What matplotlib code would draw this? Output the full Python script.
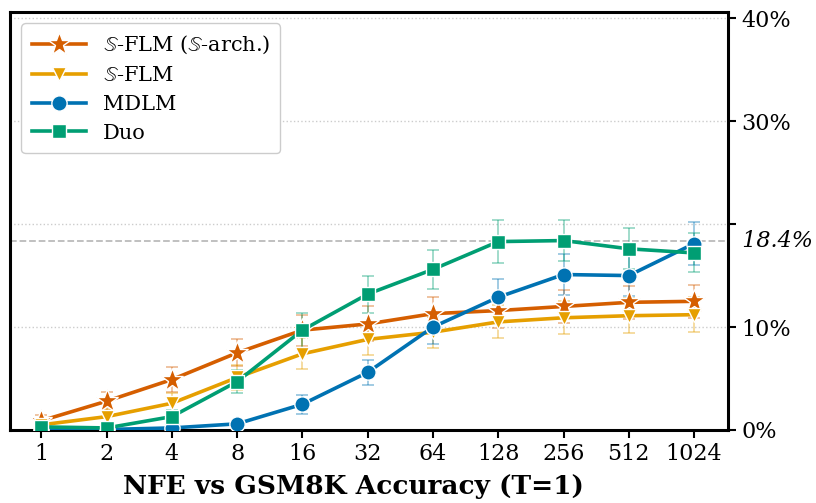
import matplotlib
matplotlib.use('Agg')
import matplotlib.pyplot as plt
import numpy as np

plt.rcParams['font.family'] = 'DejaVu Serif'
plt.rcParams['mathtext.fontset'] = 'dejavuserif'

nfe = [1, 2, 4, 8, 16, 32, 64, 128, 256, 512, 1024]

# accuracy (%) and error half-widths
sflm_arch = [0.9, 2.8, 4.9, 7.5, 9.7, 10.3, 11.3, 11.6, 12.0, 12.4, 12.5]
sflm_arch_err = [0.6, 0.9, 1.2, 1.3, 1.5, 1.7, 1.6, 1.7, 1.6, 1.6, 1.6]
sflm = [0.5, 1.3, 2.6, 5.1, 7.4, 8.8, 9.5, 10.5, 10.9, 11.1, 11.2]
sflm_err = [0.5, 0.7, 1.0, 1.2, 1.5, 1.5, 1.5, 1.6, 1.6, 1.7, 1.7]
mdlm = [0.0, 0.05, 0.2, 0.6, 2.5, 5.6, 10.0, 12.9, 15.1, 15.0, 18.1]
mdlm_err = [0.1, 0.1, 0.2, 0.4, 0.9, 1.2, 1.6, 1.8, 2.0, 2.0, 2.1]
duo = [0.3, 0.2, 1.3, 4.7, 9.7, 13.2, 15.6, 18.3, 18.4, 17.6, 17.2]
duo_err = [0.3, 0.3, 0.6, 1.1, 1.7, 1.8, 1.9, 2.1, 2.0, 2.0, 1.9]

ref_acc = 18.4

series = [
    (r'$\mathbb{S}$-FLM ($\mathbb{S}$-arch.)', sflm_arch, sflm_arch_err, '#d55e00', '*', 17),
    (r'$\mathbb{S}$-FLM', sflm, sflm_err, '#e69f00', 'v', 10),
    ('MDLM', mdlm, mdlm_err, '#0072b2', 'o', 11),
    ('Duo', duo, duo_err, '#009e73', 's', 10),
]

fig = plt.figure(figsize=(8.16, 5.03), dpi=100)
ax = fig.add_axes([10 / 816, 73 / 503, 718 / 816, 418 / 503])

x = np.arange(len(nfe))
for label, vals, err, color, marker, ms in series:
    ax.errorbar(x, vals, yerr=err, fmt='none', ecolor=color, alpha=0.4,
                elinewidth=1.3, capsize=4, capthick=1.3, zorder=2)
    ax.plot(x, vals, color=color, marker=marker, markersize=ms, lw=2.6,
            markeredgecolor='white', markeredgewidth=1.0, label=label, zorder=3)

ax.axhline(ref_acc, color='#bbbbbb', ls='--', lw=1.3, zorder=1)

ax.set_xlim(-0.48, 10.52)
ax.set_ylim(0, 40.6)
ax.set_xticks(x)
ax.set_xticklabels([str(n) for n in nfe], fontsize=16)

ax.yaxis.tick_right()
ax.set_yticks([0, 10, 20, 30, 40])
ax.set_yticklabels(['0%', '10%', '', '30%', '40%'], fontsize=16)
ax.text(1.0, ref_acc, '  18.4%', transform=ax.get_yaxis_transform(),
        fontsize=16, style='italic', va='center', ha='left')

ax.grid(axis='y', ls=':', color='#cccccc', lw=1.0)
ax.tick_params(axis='both', width=1.5, length=6, direction='out')
for sp in ax.spines.values():
    sp.set_linewidth(2.2)

ax.set_xlabel('NFE vs GSM8K Accuracy (T=1)', fontsize=19, fontweight='bold')
ax.xaxis.set_label_coords((353 - 10) / 718, -0.105)

ax.legend(loc='upper left', fontsize=15, handlelength=2.6, handletextpad=0.8,
          framealpha=1, edgecolor='#cccccc', borderpad=0.5, labelspacing=0.47,
          borderaxespad=0.55)

fig.savefig('out.png', dpi=100)
